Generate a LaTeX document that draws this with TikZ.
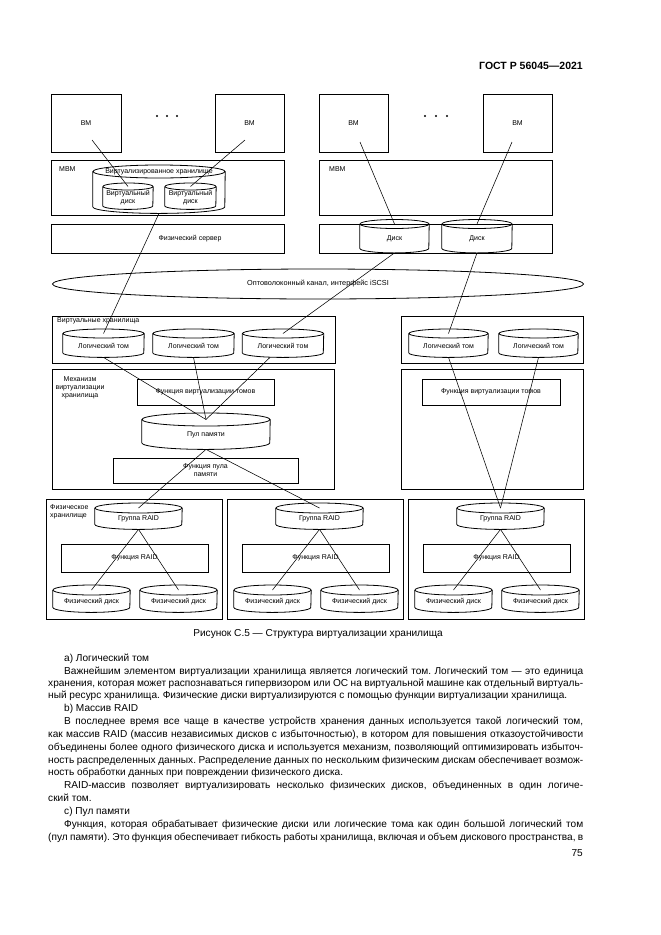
\documentclass[tikz,border=0pt]{standalone}
\usepackage{fontspec}
\setmainfont{Liberation Sans}
\usetikzlibrary{shapes.geometric, calc}
\frenchspacing

\newcommand\dfont{\fontsize{7}{8.2}\selectfont}
\newcommand\bfont{\fontsize{10.1}{12}\selectfont}
% justified body line: name, position, text
\newcommand\fullln[3]{\node[body] (#1) at (#2) {\hbox to 535pt{#3}};}
% cylinder: name, x, top y, width, height, cap radius, text
\newcommand\diskshape[7]{%
  \pgfmathsetmacro\hw{#4/2}
  \node[dsk,minimum width=#4,minimum height=#5-#6,anchor=north] (#1) at (#2,#3+#6) {#7};
  \draw[line width=0.8pt] (#1.north west) -- ([yshift=#6pt]#1.south west)
    arc[start angle=180,end angle=360,x radius=\hw pt,y radius=#6pt] -- (#1.north east);
  \draw[line width=0.8pt] (#1.north) ellipse [x radius=\hw pt,y radius=#6pt];
}

\begin{document}
\begin{tikzpicture}[x=1pt,y=-1pt]
\tikzset{box/.style={draw,line width=0.8pt,inner sep=0pt,font=\dfont},
         txt/.style={inner sep=0pt,font=\dfont},
         dsk/.style={inner sep=0pt,align=center,font=\dfont},
         link/.style={line width=0.55pt},
         body/.style={anchor=base west,inner sep=0pt,font=\bfont}}
\fill[white] (0,0) rectangle (661,935);
\useasboundingbox (0,0) rectangle (661,935);
% Header
\node[anchor=base east,inner sep=0pt,font=\bfseries\fontsize{10.5}{12}\selectfont] (gost) at (583,69) {ГОСТ Р 56045—2021};
% Left host
\node[box,minimum width=70,minimum height=58] (vm1) at (86,123) {ВМ};
\node[box,minimum width=69,minimum height=58] (vm2) at (249.5,123) {ВМ};
\foreach \d in {-10,0,10} \fill (167+\d,116) circle (1.2);
\node[box,minimum width=233,minimum height=55] (hv1) at (167.5,187.5) {};
\node[txt,anchor=west] (hv1l) at (59,169) {МВМ};
\node[box,minimum width=233,minimum height=29] (srv1) at (167.5,238.5) {};
\node[txt] (srv1l) at (190,238.5) {Физический сервер};
\diskshape{vst}{159}{165}{132}{48}{6.5}{}
\node[txt] (vstl) at (vst.north) {Виртуализированное хранилище};
\diskshape{vd1}{128}{183}{50}{26}{3.5}{Виртуальный\\диск}
\diskshape{vd2}{190.5}{183}{51}{26}{3.5}{Виртуальный\\диск}
% Right host
\node[box,minimum width=69,minimum height=58] (vm3) at (353.5,123) {ВМ};
\node[box,minimum width=69,minimum height=58] (vm4) at (517.5,123) {ВМ};
\foreach \d in {-11,0,11} \fill (436+\d,116) circle (1.2);
\node[box,minimum width=233,minimum height=55] (hv2) at (435.5,187.5) {};
\node[txt,anchor=west] (hv2l) at (329,169) {МВМ};
\node[box,minimum width=233,minimum height=29] (srv2) at (435.5,238.5) {};
\diskshape{dk1}{394.5}{219.5}{69}{33}{4.5}{Диск}
\diskshape{dk2}{477}{219.5}{70}{33}{4.5}{Диск}
% Fibre channel
\node[draw,ellipse,line width=0.8pt,minimum width=531,minimum height=30,inner sep=0pt,font=\fontsize{7.3}{9}\selectfont] (fc) at (318,284) {Оптоволоконный канал, интерфейс iSCSI};
% Virtual storages
\node[box,minimum width=283,minimum height=47] (vs1) at (193.5,339.5) {};
\node[txt,anchor=west] (vs1l) at (57,321) {Виртуальные хранилища};
\node[box,minimum width=182,minimum height=47] (vs2) at (492,339.5) {};
\diskshape{lv1}{103.5}{329}{81}{28}{4.5}{Логический том}
\diskshape{lv2}{193.5}{329}{81}{28}{4.5}{Логический том}
\diskshape{lv3}{283}{329}{81}{28}{4.5}{Логический том}
\diskshape{lv4}{448.5}{329}{79}{28}{4.5}{Логический том}
\diskshape{lv5}{538.5}{329}{79}{28}{4.5}{Логический том}
% Storage virtualisation
\node[box,minimum width=282,minimum height=120] (mech1) at (193,429) {};
\node[txt,align=center] (mech1l) at (80,388) {Механизм\\виртуализации\\хранилища};
\node[box,minimum width=182,minimum height=120] (mech2) at (492,429) {};
\node[box,minimum width=137,minimum height=26] (fv1) at (205.5,392) {Функция виртуализации томов};
\node[box,minimum width=138,minimum height=26] (fv2) at (491,392) {Функция виртуализации томов};
\diskshape{pool}{206}{413}{128}{36}{6.5}{Пул памяти}
\node[box,minimum width=185,minimum height=25,align=center] (fp) at (205.5,470.5) {Функция пула\\памяти};
% Physical storages
\foreach \i in {1,2,3} {
  \pgfmathsetmacro\dx{181*(\i-1)}
  \node[box,minimum width=176,minimum height=120] (ps\i) at (134+\dx,559) {};
  \diskshape{raid\i}{138.5+\dx}{503}{87}{26}{5}{Группа RAID}
  \node[box,minimum width=147,minimum height=28] (fr\i) at (134.5+\dx,558) {Функция RAID};
  \diskshape{pda\i}{91.5+\dx}{585}{77}{27}{5}{Физический диск}
  \diskshape{pdb\i}{178.5+\dx}{585}{77}{27}{5}{Физический диск}
  \draw[link] (raid\i.south) -- (pda\i.north);
  \draw[link] (raid\i.south) -- (pdb\i.north);
}
\node[txt,anchor=north west,align=left] (ps1l) at (50,504.5) {Физическое\\хранилище};
% Connections
\draw[link] ([xshift=6pt,yshift=-17pt]vm1.center) -- (vd1.north);
\draw[link] ([xshift=-4.5pt,yshift=-17pt]vm2.center) -- (vd2.north);
\draw[link] ([xshift=6.5pt,yshift=-19pt]vm3.center) -- (dk1.north);
\draw[link] ([xshift=-5.5pt,yshift=-19pt]vm4.center) -- (dk2.north);
\draw[link] (vst.south) -- (lv1.north);
\draw[link] (dk1.south) -- (lv3.north);
\draw[link] (dk2.south) -- (lv4.north);
\draw[link] (lv1.south) -- (pool.north);
\draw[link] (lv2.south) -- (pool.north);
\draw[link] ([xshift=-13pt]lv3.south) -- (pool.north);
\draw[link] (lv4.south) -- (raid3.north);
\draw[link] (lv5.south) -- (raid3.north);
\draw[link] (pool.south) -- (raid1.north);
\draw[link] (pool.south) -- (raid2.north);
% Caption and text
\node[inner sep=0pt,font=\bfont] (cap) at (318,634) {Рисунок С.5 — Структура виртуализации хранилища};
\node[body] (t1) at (64,661) {а) Логический том};
\fullln{t2}{48,674}{\hskip16pt Важнейшим элементом виртуализации хранилища является логический том. Логический том — это единица}
\fullln{t3}{48,686}{хранения, которая может распознаваться гипервизором или ОС на виртуальной машине как отдельный виртуаль-}
\node[body] (t4) at (48,698) {ный ресурс хранилища. Физические диски виртуализируются с помощью функции виртуализации хранилища.};
\node[body] (t5) at (64,711) {b) Массив RAID};
\fullln{t6}{48,724}{\hskip16pt В последнее время все чаще в качестве устройств хранения данных используется такой логический том,}
\fullln{t7}{48,737}{как массив RAID (массив независимых дисков с избыточностью), в котором для повышения отказоустойчивости}
\fullln{t8}{48,750}{объединены более одного физического диска и используется механизм, позволяющий оптимизировать избыточ-}
\fullln{t9}{48,763}{ность распределенных данных. Распределение данных по нескольким физическим дискам обеспечивает возмож-}
\node[body] (t10) at (48,775) {ность обработки данных при повреждении физического диска.};
\fullln{t11}{48,788}{\hskip16pt RAID-массив позволяет виртуализировать несколько физических дисков, объединенных в один логиче-}
\node[body] (t12) at (48,801) {ский том.};
\node[body] (t13) at (64,814) {с) Пул памяти};
\fullln{t14}{48,827}{\hskip16pt Функция, которая обрабатывает физические диски или логические тома как один большой логический том}
\fullln{t15}{48,840}{(пул памяти). Это функция обеспечивает гибкость работы хранилища, включая и объем дискового пространства, в}
\node[anchor=base east,inner sep=0pt,font=\bfont] (pg) at (583,856) {75};
\end{tikzpicture}
\end{document}
